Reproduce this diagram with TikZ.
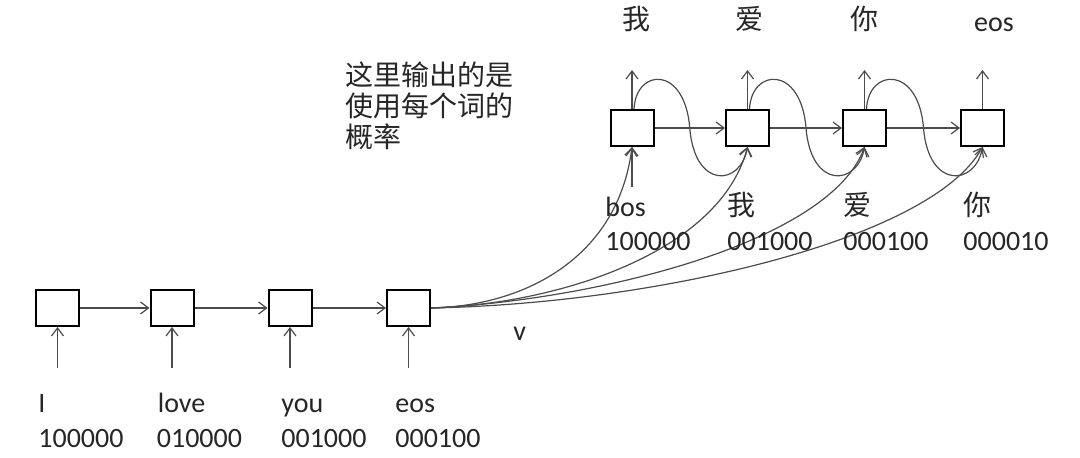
\documentclass[tikz,border=0pt]{standalone}
\usepackage{fontspec}
\setmainfont{Carlito}
\newfontfamily\cjk{Noto Sans CJK SC}
\usetikzlibrary{arrows.meta,calc}
\begin{document}
\begin{tikzpicture}[x=0.5pt,y=-0.5pt,
  cell/.style={draw=black,line width=1pt,minimum width=21.5pt,minimum height=18pt,inner sep=0pt},
  conn/.style={draw=black!70,line width=0.6pt,-{Straight Barb[length=4pt,width=6pt]}},
  lbl/.style={inner sep=0pt,anchor=base west,font=\fontsize{14}{16}\selectfont,text=black!85},
  toplbl/.style={lbl,anchor=base},
  cjklbl/.style={lbl,font=\fontsize{14}{16}\selectfont\cjk},
  cjktop/.style={toplbl,font=\fontsize{14}{16}\selectfont\cjk}]
\fill[white] (0,0) rectangle (1080,458);
\useasboundingbox (0,0) rectangle (1080,458);
% encoder cells
\node[cell] (e1) at (57.5,308) {};
\node[cell] (e2) at (172,308) {};
\node[cell] (e3) at (290,308) {};
\node[cell] (e4) at (408.5,308) {};
% decoder cells
\node[cell] (d1) at (632,128) {};
\node[cell] (d2) at (747.5,128) {};
\node[cell] (d3) at (864.5,128) {};
\node[cell] (d4) at (982.5,128) {};
% encoder links
\draw[conn] (e1) -- (e2);
\draw[conn] (e2) -- (e3);
\draw[conn] (e3) -- (e4);
\foreach \n in {e1,e2,e3,e4}{
  \draw[conn] ($(\n.south)+(0,41)$) -- (\n.south);
}
% decoder links
\draw[conn] (d1) -- (d2);
\draw[conn] (d2) -- (d3);
\draw[conn] (d3) -- (d4);
\foreach \n in {d1,d2,d3,d4}{
  \draw[conn] (\n.north) -- +(0,-39);
}
\draw[conn] ($(d1.south)+(0,40)$) -- (d1.south);
% feedback curves
\foreach \a/\b in {d1/d2,d2/d3,d3/d4}{
  \draw[conn] ($(\a.north)+(2,0)$) .. controls +(2,-41) and +(-5,-63) .. ($(\a)!0.5!(\b)$)
    .. controls +(5,62) and +(-7,39) .. (\b.south);
}
% context vector curves
\draw[conn] (e4.east) .. controls +(95,-2) and +(-14,110) .. (d1.south);
\draw[conn] (e4.east) .. controls +(130,-4) and +(-27,104) .. (d2.south);
\draw[conn] (e4.east) .. controls +(170,-8) and +(-34,94) .. (d3.south);
\draw[conn] (e4.east) .. controls +(220,-4) and +(-52,94) .. (d4.south);
% encoder labels
\node[lbl] (w1) at (38,413) {I};
\node[lbl] (c1) at (38,447) {100000};
\node[lbl] (w2) at (157.5,413) {love};
\node[lbl] (c2) at (156.5,447) {010000};
\node[lbl] (w3) at (281,413) {you};
\node[lbl] (c3) at (281,447) {001000};
\node[lbl] (w4) at (395,413) {eos};
\node[lbl] (c4) at (395,447) {000100};
\node[lbl] (v) at (513,341) {v};
% decoder input labels
\node[lbl] (b1) at (605,217) {bos};
\node[lbl] (k1) at (605,251) {100000};
\node[cjklbl] (b2) at (727,216) {我};
\node[lbl] (k2) at (727,251) {001000};
\node[cjklbl] (b3) at (843,216) {爱};
\node[lbl] (k3) at (843,251) {000100};
\node[cjklbl] (b4) at (963,216) {你};
\node[lbl] (k4) at (963,251) {000010};
% decoder outputs
\node[cjktop] (o1) at (636,30) {我};
\node[cjktop] (o2) at (749.5,30) {爱};
\node[cjktop] (o3) at (864.5,30) {你};
\node[toplbl] (o4) at (994,32) {eos};
% note
\node[cjklbl] (m1) at (345,86) {这里输出的是};
\node[cjklbl] (m2) at (345,117) {使用每个词的};
\node[cjklbl] (m3) at (345,148) {概率};
\end{tikzpicture}
\end{document}
